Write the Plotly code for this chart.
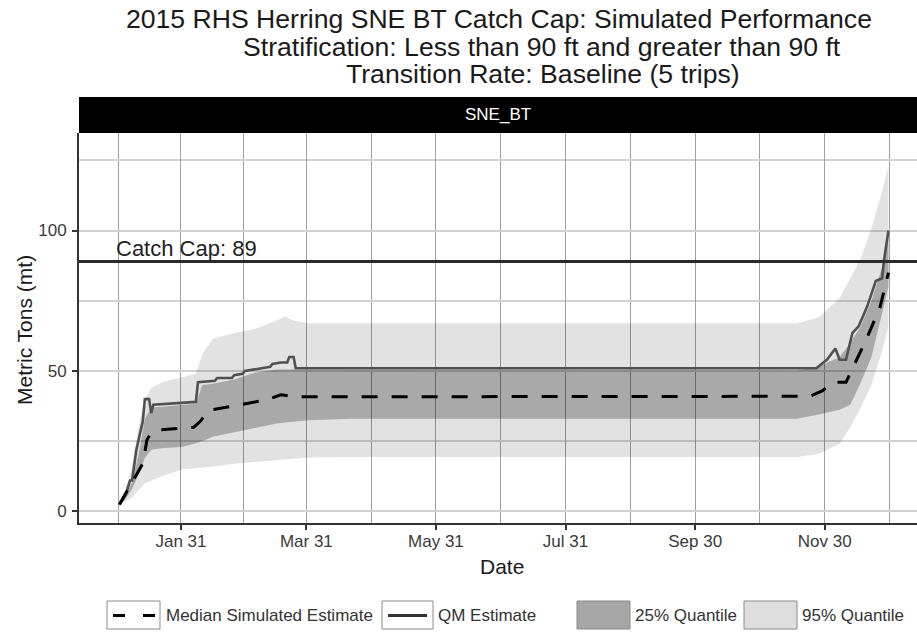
import plotly.graph_objects as go

# ---------------- data ----------------
CAP = 89

BAND_DATES = ["2015-01-02", "2015-01-05", "2015-01-08", "2015-01-11", "2015-01-14",
              "2015-01-17", "2015-01-22", "2015-02-01", "2015-02-07", "2015-02-10",
              "2015-02-15", "2015-02-25", "2015-03-07", "2015-03-17", "2015-03-21",
              "2015-03-25", "2015-04-01", "2015-04-21", "2015-11-17", "2015-11-27",
              "2015-12-07", "2015-12-12", "2015-12-17", "2015-12-22", "2015-12-27",
              "2015-12-30"]
Q95_LOW = [2, 3.5, 5, 7.5, 10, 11, 12.5, 15, 15.3, 15.6, 16, 17, 17.6, 18.3, 18.5,
           18.8, 19.2, 19.4, 19.4, 20.5, 24, 30, 37, 45, 57, 66]
Q95_HIGH = [3, 8, 16, 30, 40, 44, 46, 48, 49, 56, 61.5, 63.5, 65, 68, 69.5,
            68, 67, 67, 67, 69, 76, 83, 90, 101, 114, 123]
Q25_LOW = [2.2, 4.5, 8, 13, 19, 22, 22.5, 23, 24.3, 25, 26.6, 28.2, 29.8, 31.3, 31.7,
           32, 32.5, 33, 33, 34.5, 36.2, 38, 46, 55, 71, 80]
Q25_HIGH = [2.8, 6, 10.5, 20, 33, 37, 37.3, 37.8, 38.3, 45, 45.5, 47, 49.5, 50.5, 50.5,
            50.5, 50.3, 50.3, 50.3, 51.5, 55, 60, 66, 75, 87, 97]

QM_DATES = ["2015-01-02", "2015-01-05", "2015-01-07", "2015-01-08", "2015-01-10",
            "2015-01-13", "2015-01-14", "2015-01-16", "2015-01-17", "2015-01-18",
            "2015-02-07", "2015-02-08", "2015-02-16", "2015-02-17", "2015-02-24",
            "2015-02-25", "2015-03-01", "2015-03-02", "2015-03-10", "2015-03-14",
            "2015-03-15", "2015-03-19", "2015-03-22", "2015-03-23", "2015-03-25",
            "2015-03-26", "2015-11-26", "2015-12-01", "2015-12-05", "2015-12-07",
            "2015-12-10", "2015-12-13", "2015-12-16", "2015-12-20", "2015-12-24",
            "2015-12-27", "2015-12-28", "2015-12-29", "2015-12-30"]
QM_VALUES = [2.5, 6, 11, 11, 22, 32, 40, 40, 35, 38,
             39, 46, 46.5, 47.5, 47.5, 48.5, 49, 50, 51, 51.5,
             52.5, 53, 53, 55, 55, 51, 51, 54, 58, 54,
             54, 63.5, 66, 73, 82, 83, 90, 96, 100]

MED_DATES = ["2015-01-02", "2015-01-07", "2015-01-13", "2015-01-15", "2015-01-17",
             "2015-01-21", "2015-02-06", "2015-02-09", "2015-02-13", "2015-02-28",
             "2015-03-12", "2015-03-19", "2015-03-27", "2015-11-23", "2015-11-29",
             "2015-12-04", "2015-12-10", "2015-12-15", "2015-12-20", "2015-12-26",
             "2015-12-30"]
MED_VALUES = [2.5, 9, 17, 25.5, 28, 29, 30, 32, 36, 38,
              39.7, 41.5, 40.8, 41, 43, 46, 46, 54, 62, 72.7, 85]

XTICK_VALS = ["2015-01-31", "2015-03-31", "2015-05-31", "2015-07-31", "2015-09-30", "2015-11-30"]
XTICK_TEXT = ["Jan 31", "Mar 31", "May 31", "Jul 31", "Sep 30", "Nov 30"]
XMINOR_VALS = ["2015-01-01 12:00", "2015-03-01 12:00", "2015-04-30 12:00", "2015-06-30 12:00",
               "2015-08-30 12:00", "2015-10-30 12:00", "2015-12-30 12:00"]
YTICK_VALS = [0, 50, 100]
YMINOR_VALS = [25, 75, 125]

TITLE_LINES = ["2015 RHS Herring SNE BT Catch Cap: Simulated Performance",
               "Stratification: Less than 90 ft and greater than 90 ft",
               "Transition Rate: Baseline (5 trips)"]
PANEL_LABEL = "SNE_BT"
X_TITLE = "Date"
Y_TITLE = "Metric Tons (mt)"
LEGEND_LABELS = ["Median Simulated Estimate", "QM Estimate", "25% Quantile", "95% Quantile"]

# ---------------- layout helpers ----------------
W, H = 917, 636
L, R, T, B = 79, 0, 133, 113
PW = W - L - R
PH = H - T - B
FONT = "Liberation Sans, Arial, Helvetica, sans-serif"


def px(x):
    return (x - L) / PW


def py(y):
    return (H - B - y) / PH


LIGHT = "rgba(0,0,0,0.115)"
DARK = "rgba(0,0,0,0.25)"

fig = go.Figure()
fig.add_trace(go.Scatter(x=BAND_DATES, y=Q95_LOW, mode="lines", line=dict(width=0),
                         hoverinfo="skip", showlegend=False))
fig.add_trace(go.Scatter(x=BAND_DATES, y=Q95_HIGH, mode="lines", line=dict(width=0),
                         fill="tonexty", fillcolor=LIGHT, hoverinfo="skip", showlegend=False))
fig.add_trace(go.Scatter(x=BAND_DATES, y=Q25_LOW, mode="lines", line=dict(width=0),
                         hoverinfo="skip", showlegend=False))
fig.add_trace(go.Scatter(x=BAND_DATES, y=Q25_HIGH, mode="lines", line=dict(width=0),
                         fill="tonexty", fillcolor=DARK, hoverinfo="skip", showlegend=False))
fig.add_trace(go.Scatter(x=QM_DATES, y=QM_VALUES, mode="lines",
                         line=dict(color="#505050", width=2.6), showlegend=False))
fig.add_trace(go.Scatter(x=MED_DATES, y=MED_VALUES, mode="lines",
                         line=dict(color="#000000", width=3, dash="16px,14px"), showlegend=False))

shapes = []
annotations = []

# catch cap reference line + label
shapes.append(dict(type="line", xref="paper", yref="y", x0=0, x1=1, y0=CAP, y1=CAP,
                   line=dict(color="#2a2a2a", width=3), layer="above"))
annotations.append(dict(x="2015-01-01", y=CAP, xref="x", yref="y", text=f"Catch Cap: {CAP}",
                        showarrow=False, xanchor="left", yanchor="bottom", xshift=-3, yshift=-2,
                        font=dict(family=FONT, size=22, color="#222222")))

# facet strip
shapes.append(dict(type="rect", xref="paper", yref="paper", x0=0, x1=1,
                   y0=1, y1=py(97), fillcolor="#000000", line=dict(width=0), layer="above"))
annotations.append(dict(text=PANEL_LABEL, xref="paper", yref="paper", x=0.5, y=py(115),
                        showarrow=False, xanchor="center", yanchor="middle",
                        font=dict(family=FONT, size=17, color="#ffffff")))

# titles
title_pos = [(499, 19.5, 26.6), (541.7, 47, 26.6), (542.5, 73.5, 26.6)]
for line, (cx, cy, fs) in zip(TITLE_LINES, title_pos):
    annotations.append(dict(text=line, xref="paper", yref="paper", x=px(cx), y=py(cy),
                            showarrow=False, xanchor="center", yanchor="middle",
                            font=dict(family=FONT, size=fs, color="#1a1a1a")))

# axis titles
annotations.append(dict(text=X_TITLE, xref="paper", yref="paper", x=px(502), y=py(566),
                        showarrow=False, xanchor="center", yanchor="middle",
                        font=dict(family=FONT, size=21, color="#1a1a1a")))
annotations.append(dict(text=Y_TITLE, xref="paper", yref="paper", x=px(24), y=py(330),
                        showarrow=False, xanchor="center", yanchor="middle", textangle=-90,
                        font=dict(family=FONT, size=21, color="#1a1a1a")))

# legend (drawn manually, ggplot style)
ky0, ky1, kyc = 601, 629, 615.5
key_boxes = [(107, 160, "#ffffff"), (382, 433, "#ffffff"), (577, 630, "#a6a6a6"), (744, 797, "#dedede")]
for (x0, x1, fc) in key_boxes:
    shapes.append(dict(type="rect", xref="paper", yref="paper", x0=px(x0), x1=px(x1),
                       y0=py(ky1), y1=py(ky0), fillcolor=fc,
                       line=dict(color="#8a8a8a", width=1)))
shapes.append(dict(type="line", xref="paper", yref="paper", x0=px(113), x1=px(125),
                   y0=py(kyc), y1=py(kyc), line=dict(color="#000000", width=3)))
shapes.append(dict(type="line", xref="paper", yref="paper", x0=px(143), x1=px(155),
                   y0=py(kyc), y1=py(kyc), line=dict(color="#000000", width=3)))
shapes.append(dict(type="line", xref="paper", yref="paper", x0=px(388), x1=px(427),
                   y0=py(kyc), y1=py(kyc), line=dict(color="#333333", width=3)))
for label, lx in zip(LEGEND_LABELS, [164, 436, 633, 800]):
    annotations.append(dict(text=label, xref="paper", yref="paper", x=px(lx), y=py(kyc),
                            showarrow=False, xanchor="left", yanchor="middle",
                            font=dict(family=FONT, size=17, color="#333333")))

fig.update_layout(
    width=W, height=H,
    margin=dict(l=L, r=R, t=T, b=B, autoexpand=False),
    paper_bgcolor="#ffffff", plot_bgcolor="#ffffff",
    showlegend=False,
    shapes=shapes,
    annotations=annotations,
    font=dict(family=FONT),
    xaxis=dict(
        type="date",
        range=["2014-12-14 00:00", "2016-01-12 10:00"],
        tickmode="array", tickvals=XTICK_VALS, ticktext=XTICK_TEXT,
        ticks="outside", ticklen=5, tickcolor="#333333", tickwidth=1.5,
        ticklabelstandoff=-3,
        tickfont=dict(family=FONT, size=17, color="#3a3a3a"),
        showgrid=True, gridcolor="#a0a0a0", gridwidth=1,
        minor=dict(tickmode="array", tickvals=XMINOR_VALS, showgrid=True,
                   gridcolor="#a0a0a0", gridwidth=1, ticks=""),
        showline=True, linecolor="#333333", linewidth=2,
        zeroline=False, automargin=False, fixedrange=True,
    ),
    yaxis=dict(
        range=[-4.1, 134.7],
        tickmode="array", tickvals=YTICK_VALS,
        ticks="outside", ticklen=5, tickcolor="#333333", tickwidth=1.5,
        ticklabelstandoff=2,
        tickfont=dict(family=FONT, size=17, color="#3a3a3a"),
        showgrid=True, gridcolor="#d2d2d2", gridwidth=1.5,
        minor=dict(tickmode="array", tickvals=YMINOR_VALS, showgrid=True,
                   gridcolor="#d2d2d2", gridwidth=1.5, ticks=""),
        showline=True, linecolor="#333333", linewidth=2,
        zeroline=False, automargin=False, fixedrange=True,
    ),
)

fig.write_html("out.html", config={"displayModeBar": False},
               post_script="document.body.style.margin='0';")
